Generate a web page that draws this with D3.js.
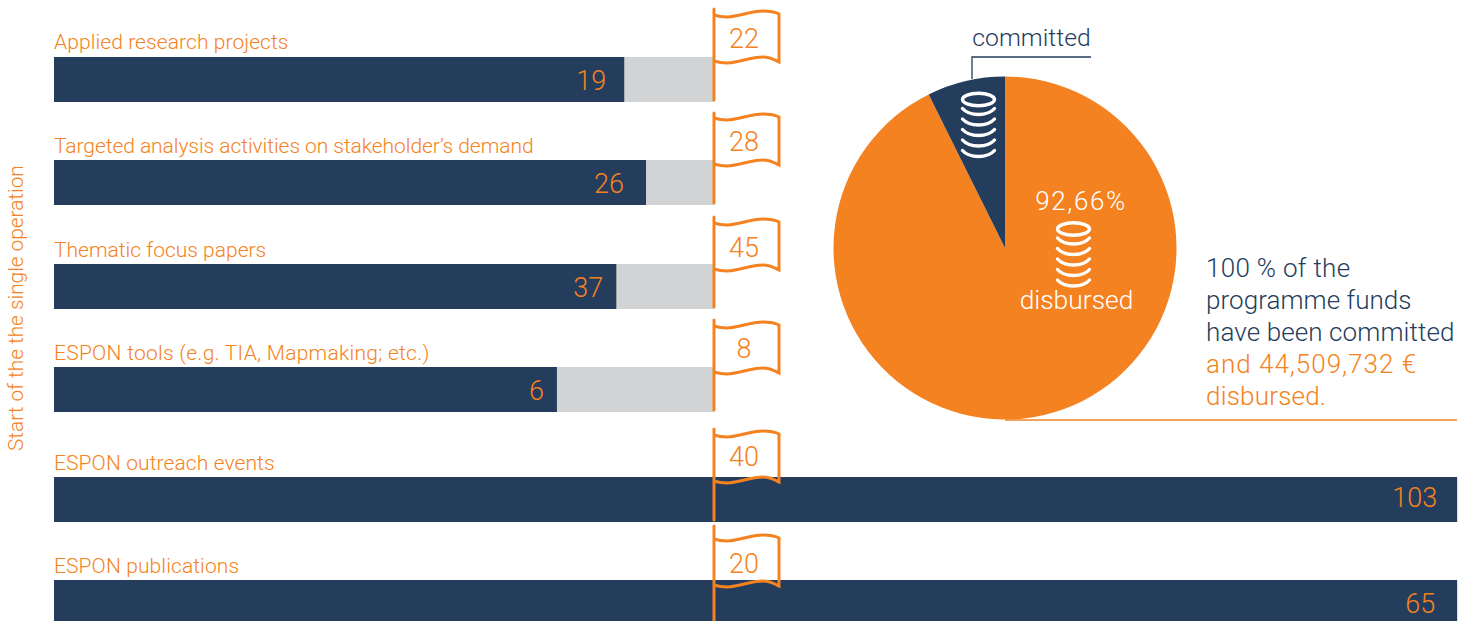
<!DOCTYPE html>
<html><head><meta charset="utf-8">
<script src="https://cdnjs.cloudflare.com/ajax/libs/d3/7.8.5/d3.min.js"></script>
<style>html,body{margin:0;padding:0;background:#fff;overflow:hidden}
text{font-family:Roboto,Lato,sans-serif;font-weight:300}</style>
</head><body><svg id="c" width="1470" height="621"></svg>
<script>
// data
const categories = ["Applied research projects","Targeted analysis activities on stakeholder’s demand","Thematic focus papers","ESPON tools (e.g. TIA, Mapmaking; etc.)","ESPON outreach events","ESPON publications"];
const achieved = [19,26,37,6,103,65];
const targets = [22,28,45,8,40,20];
// share of the target line covered by the bar, as drawn in the picture (%)
const barShare = [86.4,89.7,85.2,76.2,212.6,212.6];
const pieLabels = ["disbursed","committed"];
const pieValues = [92.66,7.34];
const noteDark = ["100 % of the","programme funds","have been committed"];
const noteOrange = ["and 44,509,732 €","disbursed."];

// layout
const navy="#243d5c", orange="#f58220", grey="#d1d3d4";
const barTops=[57,160,264,367,477,580], barH=45;
const numInset=[18,22,13,13,20,22];
const numDrop=[33,33,33,33,30,33];
const labelDrop=[-8,-7,-7,-7,-7,-7];
const labelTrack=[0.08,-0.06,0,0.26,0.1,0.1];
const poleTop=[48,47,47,47,48,54];
const flagDrop=[0,0,1,1,0,1];
const flagNum=[-9,-9,-7,-9,-11,-7];
const svg=d3.select("#c");
const x=d3.scaleLinear().domain([0,100]).range([54,714]);

svg.append("text").attr("transform","translate(23,451) rotate(-90)").attr("fill",orange).attr("font-size",20.8).text("Start of the the single operation");

categories.forEach((c,i)=>{
  const t=barTops[i], f=t+flagDrop[i], g=svg.append("g");
  g.append("rect").attr("x",x(0)).attr("y",t).attr("width",x(100)-x(0)).attr("height",barH).attr("fill",grey);
  g.append("rect").attr("x",x(0)).attr("y",t).attr("width",x(barShare[i])-x(0)).attr("height",barH).attr("fill",navy);
  g.append("text").attr("x",54).attr("y",t+labelDrop[i]).attr("fill",orange).attr("font-size",21).attr("letter-spacing",labelTrack[i]).text(c);
  g.append("text").attr("x",x(barShare[i])-numInset[i]).attr("y",t+numDrop[i]).attr("text-anchor","end").attr("fill",orange).attr("font-size",27).text(achieved[i]);
  // flag
  const p=d3.path();
  p.moveTo(714,f-42);p.bezierCurveTo(734,f-36,745,f-46,763,f-46);p.bezierCurveTo(770,f-46,775,f-45,779,f-43);
  p.lineTo(779,f+5);
  p.bezierCurveTo(775,f+3,770,f,763,f);p.bezierCurveTo(745,f,734,f+10,714,f+4);
  g.append("path").attr("d",p.toString()).attr("fill","none").attr("stroke",orange).attr("stroke-width",3);
  g.append("line").attr("x1",714).attr("x2",714).attr("y1",t-poleTop[i]).attr("y2",t+43).attr("stroke",orange).attr("stroke-width",3).attr("stroke-linecap","round");
  g.append("text").attr("x",744).attr("y",t+flagNum[i]).attr("text-anchor","middle").attr("fill",orange).attr("font-size",27).text(targets[i]);
});

// pie
const cx=1005,cy=248,R=171.5;
const pie=d3.pie().sort(null)(pieValues);
const arc=d3.arc().innerRadius(0).outerRadius(R);
svg.append("g").attr("transform",`translate(${cx},${cy})`).selectAll("path").data(pie).join("path")
  .attr("d",arc).attr("fill",(d,i)=>i?navy:orange);

// coin stacks
function coins(cxc,top){
  const g=svg.append("g").attr("fill","none").attr("stroke","#fff").attr("stroke-width",3.4).attr("stroke-linecap","round");
  g.append("ellipse").attr("cx",cxc).attr("cy",top+7).attr("rx",16).attr("ry",6.2);
  for(let k=0;k<5;k++){
    const y=top+16+k*10.5;
    const q=d3.path();q.moveTo(cxc-16,y);q.bezierCurveTo(cxc-9,y+8,cxc+9,y+8,cxc+16,y);
    g.append("path").attr("d",q.toString());
  }
}
coins(978.5,92.5);
coins(1073.5,222);

svg.append("text").attr("x",1081).attr("y",210).attr("text-anchor","middle").attr("fill","#fff").attr("font-size",26).attr("letter-spacing",1.6).text("92,66%");
svg.append("text").attr("x",1076.5).attr("y",309).attr("text-anchor","middle").attr("fill","#fff").attr("font-size",26.4).text(pieLabels[0]);
svg.append("text").attr("x",1031.5).attr("y",46).attr("text-anchor","middle").attr("fill",navy).attr("font-size",24.7).text(pieLabels[1]);
svg.append("path").attr("d",(()=>{const p=d3.path();p.moveTo(1091,57);p.lineTo(972,57);p.lineTo(972,79);return p.toString()})()).attr("fill","none").attr("stroke",navy).attr("stroke-width",1.3);
svg.append("line").attr("x1",1005).attr("x2",1457).attr("y1",420).attr("y2",420).attr("stroke",orange).attr("stroke-width",1.3);

const spacing=[0.3,0.05,0.1,1,0.2];
noteDark.forEach((s,i)=>svg.append("text").attr("x",1206).attr("y",277+32*i).attr("fill",navy).attr("font-size",26).attr("letter-spacing",spacing[i]).text(s));
noteOrange.forEach((s,i)=>svg.append("text").attr("x",1206).attr("y",373+32*i).attr("fill",orange).attr("font-size",26).attr("letter-spacing",spacing[i+3]).text(s));
</script></body></html>
